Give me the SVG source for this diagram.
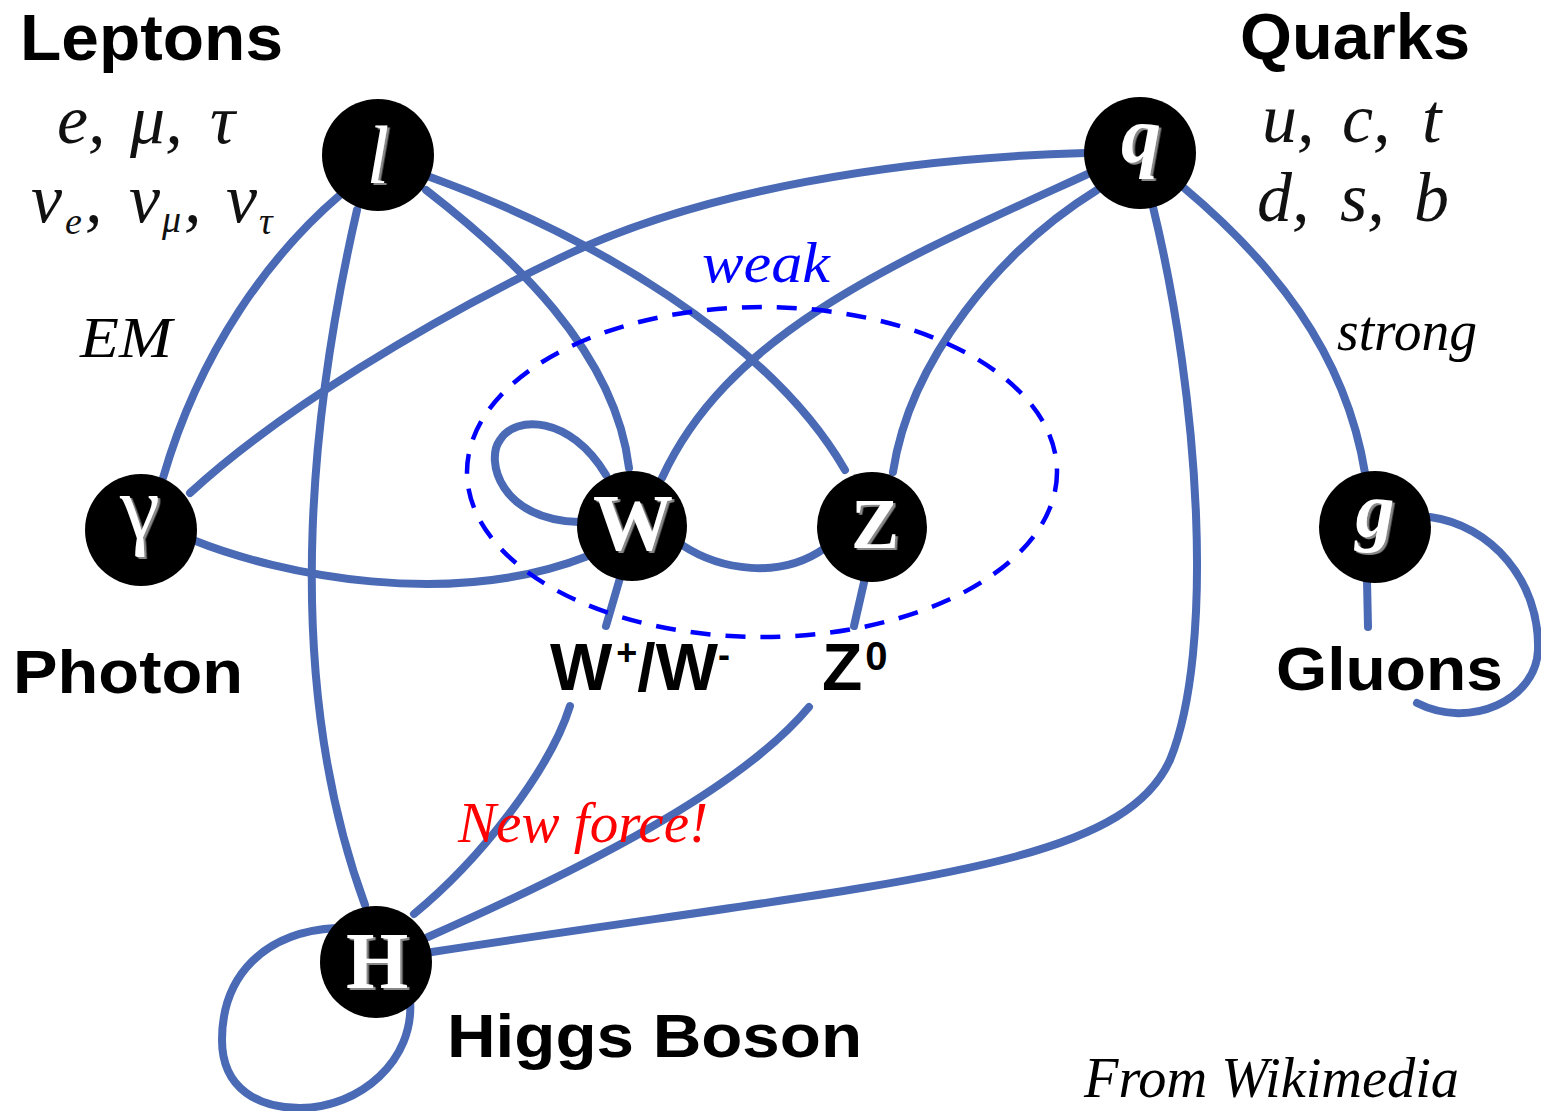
<svg xmlns="http://www.w3.org/2000/svg" width="1541" height="1111" viewBox="0 0 1541 1111">
<defs>
<style>
.edge{fill:none;stroke:#4a6ab6;stroke-width:8;stroke-linecap:round}
.node{fill:#000}
.lbl{font-family:"Liberation Sans",Arial,sans-serif;font-weight:bold;fill:#000}
.math{font-family:"Liberation Serif","Times New Roman",serif;font-style:italic;fill:#111}
.ltr{font-family:"Liberation Serif","Times New Roman",serif;fill:#fff;text-anchor:middle;filter:url(#emb)}
.script{font-family:"Liberation Serif","Times New Roman",serif;font-style:italic}
</style>
<filter id="emb" x="-20%" y="-20%" width="140%" height="140%">
<feDropShadow dx="2.5" dy="2" stdDeviation="0.6" flood-color="#888"/>
</filter>
</defs>
<rect width="1541" height="1111" fill="#fff"/>
<g id="connectors">
<path class="edge" d="M340,195 C270,255 200,350 163,478"/>
<path class="edge" d="M357,210 C318,380 275,660 365,905"/>
<path class="edge" d="M426,190 C510,255 615,350 629,468"/>
<path class="edge" d="M430,177 C590,235 770,340 845,470"/>
<path class="edge" d="M1085,153 C900,158 700,190 560,258 C430,320 280,410 190,493"/>
<path class="edge" d="M1090,173 C900,260 730,330 662,478"/>
<path class="edge" d="M1097,190 C1000,250 910,360 893,472"/>
<path class="edge" d="M1153,207 C1200,400 1215,650 1170,760 C1120,870 900,880 432,952"/>
<path class="edge" d="M1183,187 C1270,260 1345,350 1365,473"/>
<path class="edge" d="M193,540 C280,575 450,610 588,556"/>
<path class="edge" d="M579,522 C500,520 485,460 500,440 C515,415 570,415 606,475"/>
<path class="edge" d="M682,545 C720,570 780,580 825,548"/>
<path class="edge" d="M620,578 L606,626"/>
<path class="edge" d="M865,578 L854,626"/>
<path class="edge" d="M1367,580 L1368,627"/>
<path class="edge" d="M1430,517 C1490,525 1540,580 1538,650 C1536,700 1470,730 1417,703"/>
<path class="edge" d="M570,706 C550,770 480,860 414,914"/>
<path class="edge" d="M809,707 C740,790 580,870 428,937"/>
<path class="edge" d="M336,928 C265,932 222,975 222,1040 C222,1090 260,1108 300,1108 C360,1108 415,1060 410,1000"/>
</g>
<g id="weak-region">
<ellipse cx="762" cy="472" rx="295" ry="165" fill="none" stroke="#0000ff" stroke-width="4.5" stroke-dasharray="20 15"/>
<text class="script" x="702" y="282" font-size="58" fill="#0000ff" textLength="128" lengthAdjust="spacingAndGlyphs">weak</text>
</g>
<g id="node-l">
<circle class="node" cx="378" cy="155" r="56"/>
<text class="ltr" x="378" y="183" font-size="82" font-style="italic">l</text>
</g>
<g id="node-q">
<circle class="node" cx="1140" cy="153" r="56"/>
<text class="ltr" x="1141" y="162" font-size="80" font-style="italic" font-weight="bold">q</text>
</g>
<g id="node-gamma">
<circle class="node" cx="141" cy="530" r="56"/>
<text class="ltr" x="140" y="538" font-size="90">γ</text>
</g>
<g id="node-W">
<circle class="node" cx="632" cy="526" r="55"/>
<text class="ltr" x="633" y="550" font-size="80" font-weight="bold">W</text>
</g>
<g id="node-Z">
<circle class="node" cx="872" cy="527" r="55"/>
<text class="ltr" x="875" y="548" font-size="72" font-weight="bold">Z</text>
</g>
<g id="node-g">
<circle class="node" cx="1375" cy="527" r="56"/>
<text class="ltr" x="1375" y="536" font-size="78" font-style="italic" font-weight="bold">g</text>
</g>
<g id="node-H">
<circle class="node" cx="376" cy="962" r="56"/>
<text class="ltr" x="377" y="988" font-size="80" font-weight="bold">H</text>
</g>
<g id="labels">
<text class="lbl" x="20" y="60" font-size="64" textLength="263" lengthAdjust="spacingAndGlyphs">Leptons</text>
<text class="lbl" x="1240" y="59" font-size="64" textLength="230" lengthAdjust="spacingAndGlyphs">Quarks</text>
<text class="lbl" x="13" y="693" font-size="62" textLength="230" lengthAdjust="spacingAndGlyphs">Photon</text>
<text class="lbl" x="550" y="690" font-size="66">W<tspan font-size="36" dy="-25" dx="4">+</tspan><tspan dy="25">/W</tspan><tspan font-size="36" dy="-23">-</tspan></text>
<text class="lbl" x="822" y="690" font-size="66">Z<tspan font-size="40" dy="-20" dx="3">0</tspan></text>
<text class="lbl" x="1276" y="690" font-size="62" textLength="227" lengthAdjust="spacingAndGlyphs">Gluons</text>
<text class="lbl" x="447" y="1057" font-size="62" textLength="415" lengthAdjust="spacingAndGlyphs">Higgs Boson</text>
<text class="math" font-size="70" y="143"><tspan x="57">e,</tspan><tspan x="130">μ,</tspan><tspan x="210">τ</tspan></text>
<text class="math" font-size="70"><tspan x="31" y="222">ν</tspan><tspan x="65" y="234" font-size="38">e</tspan><tspan x="85" y="222">,</tspan><tspan x="129" y="222">ν</tspan><tspan x="162" y="232" font-size="38">μ</tspan><tspan x="184" y="222">,</tspan><tspan x="226" y="222">ν</tspan><tspan x="259" y="234" font-size="38">τ</tspan></text>
<text class="math" font-size="70" y="142"><tspan x="1262">u,</tspan><tspan x="1342">c,</tspan><tspan x="1422">t</tspan></text>
<text class="math" font-size="70" y="221"><tspan x="1257">d,</tspan><tspan x="1340">s,</tspan><tspan x="1414">b</tspan></text>
<text class="script" x="80" y="357" font-size="56" fill="#000" textLength="92" lengthAdjust="spacingAndGlyphs">EM</text>
<text class="script" x="1337" y="350" font-size="56" fill="#000" textLength="140" lengthAdjust="spacingAndGlyphs">strong</text>
<text class="script" x="458" y="842" font-size="58" fill="#ff0000" textLength="250" lengthAdjust="spacingAndGlyphs">New force!</text>
<text class="script" x="1084" y="1097" font-size="58" fill="#000" textLength="375" lengthAdjust="spacingAndGlyphs">From Wikimedia</text>
</g>
</svg>
